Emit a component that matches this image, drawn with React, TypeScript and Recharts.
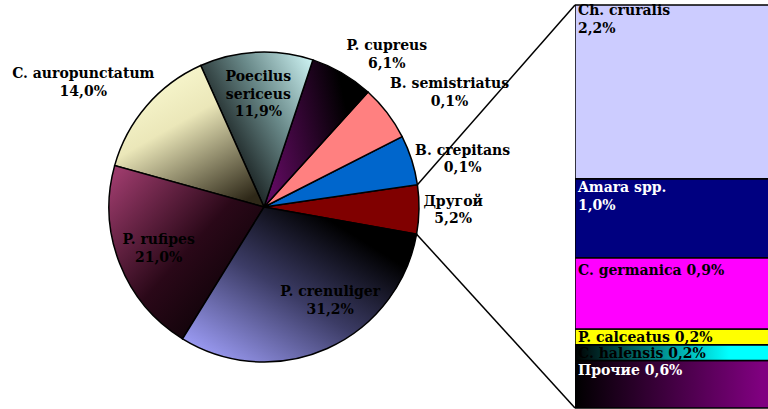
import React from "react";
import { PieChart, Pie, Cell, BarChart, Bar, XAxis, YAxis, LabelList } from "recharts";

// pie: slices counter-clockwise from the "Другой" slice at 3 o'clock
const pieNames = [
  "Другой",
  "B. crepitans",
  "B. semistriatus",
  "P. cupreus",
  "Poecilus sericeus",
  "C. auropunctatum",
  "P. rufipes",
  "P. crenuliger",
];
const pieShares = [5.1, 5.2, 5.8, 6.6, 11.8, 14.0, 20.5, 31.0];
const pieLabels = ["5,2%", "0,1%", "0,1%", "6,1%", "11,9%", "14,0%", "21,0%", "31,2%"];

// bar of "Другой", bottom to top
const barNames = ["Прочие", "C. halensis", "P. calceatus", "C. germanica", "Amara spp.", "Ch. cruralis"];
const barKeys = ["prochie", "halensis", "calceatus", "germanica", "amara", "cruralis"];
const barValues = [0.6, 0.2, 0.2, 0.9, 1.0, 2.2];
const barLabels = ["0,6%", "0,2%", "0,2%", "0,9%", "1,0%", "2,2%"];

const FONT = "'DejaVu Serif', serif";
const FS = 14;
const W = 768;
const H = 409;
const CX = 264;
const CY = 207;
const R = 155;
const START = -10.1;
const BAR_LEFT = 575;
const BAR_TOP = 5;
const BAR_BOTTOM = 408;
const RAD = Math.PI / 180;

const pieFills: Record<string, string> = {
  "Другой": "#800000",
  "B. crepitans": "#0066cc",
  "B. semistriatus": "#ff8080",
  "P. cupreus": "url(#gCupreus)",
  "Poecilus sericeus": "url(#gSericeus)",
  "C. auropunctatum": "url(#gAuro)",
  "P. rufipes": "url(#gRufipes)",
  "P. crenuliger": "url(#gCren)",
};

const inside = ["Poecilus sericeus", "P. rufipes", "P. crenuliger"];
const nudge: Record<string, [number, number]> = {
  "Другой": [6, 0],
  "B. crepitans": [0, 5],
  "B. semistriatus": [10, -8],
  "P. cupreus": [22, -1],
  "C. auropunctatum": [-10, -10],
  "P. crenuliger": [20, -10],
};

const barFills: Record<string, string> = {
  prochie: "url(#gProchie)",
  halensis: "url(#gHalensis)",
  calceatus: "#ffff00",
  germanica: "#ff00ff",
  amara: "#000080",
  cruralis: "#ccccff",
};
const barTextColor: Record<string, string> = {
  prochie: "#ffffff",
  halensis: "#000000",
  calceatus: "#000000",
  germanica: "#000000",
  amara: "#ffffff",
  cruralis: "#000000",
};
const twoLine = ["amara", "cruralis"];
const barBaseline: Record<string, number> = {
  prochie: 14,
  halensis: 13,
  calceatus: 13,
  germanica: 17,
  amara: 13,
  cruralis: 10,
};

const pieData = pieNames.map((name, i) => ({ name, value: pieShares[i], pct: pieLabels[i] }));
const barRow: Record<string, any> = { cat: "other" };
barKeys.forEach((k, i) => (barRow[k] = barValues[i]));
const barData = [barRow];

function renderPieLabel(props: any) {
  const { cx, cy, midAngle, outerRadius, index } = props;
  const name = pieNames[index];
  const lines = name === "Poecilus sericeus" ? ["Poecilus", "sericeus", pieLabels[index]] : [name, pieLabels[index]];
  const cos = Math.cos(-midAngle * RAD);
  const sin = Math.sin(-midAngle * RAD);
  let x: number;
  let y: number;
  if (inside.includes(name)) {
    x = cx + outerRadius * 0.73 * cos;
    y = cy + outerRadius * 0.73 * sin;
  } else {
    const halfW = Math.max(...lines.map((l) => l.length)) * 4.2;
    const halfH = 18;
    x = cx + (outerRadius + 3) * cos + cos * halfW;
    y = cy + (outerRadius + 3) * sin + sin * halfH;
  }
  const n = nudge[name];
  if (n) {
    x += n[0];
    y += n[1];
  }
  const lh = 17.5;
  const top = y - ((lines.length - 1) * lh) / 2;
  return (
    <text
      key={`pl-${index}`}
      x={x}
      y={top}
      textAnchor="middle"
      fontFamily={FONT}
      fontSize={FS}
      fontWeight="bold"
      fill="#000"
    >
      {lines.map((l, i) => (
        <tspan key={i} x={x} y={top + i * lh} dy="0.35em">
          {l}
        </tspan>
      ))}
    </text>
  );
}

function makeBarLabel(key: string, i: number) {
  return (props: any) => {
    const { x, y } = props;
    const base = y + barBaseline[key];
    const common = {
      fontFamily: FONT,
      fontSize: FS,
      fontWeight: "bold" as const,
      fill: barTextColor[key],
    };
    if (twoLine.includes(key)) {
      return (
        <text {...common}>
          <tspan x={x + 3} y={base}>{barNames[i]}</tspan>
          <tspan x={x + 3} y={base + 18}>{barLabels[i]}</tspan>
        </text>
      );
    }
    return (
      <text {...common} x={x + 3} y={base}>
        {`${barNames[i]} ${barLabels[i]}`}
      </text>
    );
  };
}

function Connectors() {
  const end = START + pieShares[0] * 3.6;
  const p1 = { x: CX + R * Math.cos(end * RAD), y: CY - R * Math.sin(end * RAD) };
  const p2 = { x: CX + R * Math.cos(START * RAD), y: CY - R * Math.sin(START * RAD) };
  return (
    <svg width={W} height={H} style={{ position: "absolute", left: 0, top: 0, pointerEvents: "none" }}>
      <line x1={p1.x} y1={p1.y} x2={BAR_LEFT} y2={BAR_TOP} stroke="#000" strokeWidth={1.5} />
      <line x1={p2.x} y1={p2.y} x2={BAR_LEFT} y2={BAR_BOTTOM} stroke="#000" strokeWidth={1.5} />
    </svg>
  );
}

export default function App() {
  return (
    <div style={{ position: "relative", width: W, height: H, overflow: "hidden", background: "#fff" }}>
      <style>{"body{margin:0}"}</style>
      <div style={{ position: "absolute", left: BAR_LEFT, top: 0 }}>
        <BarChart
          width={220}
          height={H}
          data={barData}
          margin={{ top: BAR_TOP, right: 0, bottom: H - BAR_BOTTOM, left: 0 }}
          barCategoryGap={0}
        >
          <defs>
            <linearGradient id="gHalensis" x1="0" y1="0" x2="1" y2="0">
              <stop offset="0" stopColor="#000000" />
              <stop offset="0.7" stopColor="#00ffff" />
              <stop offset="1" stopColor="#00ffff" />
            </linearGradient>
            <linearGradient id="gProchie" x1="0" y1="0" x2="1" y2="0">
              <stop offset="0" stopColor="#000000" />
              <stop offset="0.85" stopColor="#800080" />
              <stop offset="1" stopColor="#800080" />
            </linearGradient>
          </defs>
          <XAxis dataKey="cat" hide />
          <YAxis hide domain={[0, 5.1]} />
          {barKeys.map((k, i) => (
            <Bar
              key={k}
              dataKey={k}
              stackId="a"
              fill={barFills[k]}
              stroke="#000"
              strokeWidth={1.5}
              isAnimationActive={false}
            >
              <LabelList dataKey={k} content={makeBarLabel(k, i)} />
            </Bar>
          ))}
        </BarChart>
      </div>
      <div style={{ position: "absolute", left: 0, top: 0 }}>
        <PieChart width={W} height={H} margin={{ top: 0, right: 0, bottom: 0, left: 0 }}>
          <defs>
            <linearGradient id="gCren" x1="0.1" y1="0.95" x2="0.9" y2="0.1">
              <stop offset="0" stopColor="#9a9af2" />
              <stop offset="0.45" stopColor="#3c3c66" />
              <stop offset="0.85" stopColor="#000000" />
            </linearGradient>
            <linearGradient id="gRufipes" x1="0" y1="0.1" x2="0.9" y2="1">
              <stop offset="0" stopColor="#9a3a6a" />
              <stop offset="0.5" stopColor="#2a0818" />
              <stop offset="1" stopColor="#000000" />
            </linearGradient>
            <linearGradient id="gAuro" x1="0.2" y1="0" x2="0.8" y2="1">
              <stop offset="0" stopColor="#fcfcd4" />
              <stop offset="0.4" stopColor="#ebe7b9" />
              <stop offset="1" stopColor="#2e2818" />
            </linearGradient>
            <linearGradient id="gSericeus" x1="1" y1="0" x2="0.1" y2="0.7">
              <stop offset="0" stopColor="#d4fafa" />
              <stop offset="0.45" stopColor="#6a8a8a" />
              <stop offset="1" stopColor="#000000" />
            </linearGradient>
            <linearGradient id="gCupreus" x1="0" y1="0.6" x2="1" y2="0.3">
              <stop offset="0" stopColor="#5e0a5e" />
              <stop offset="0.8" stopColor="#000000" />
            </linearGradient>
          </defs>
          <Pie
            data={pieData}
            dataKey="value"
            nameKey="name"
            cx={CX}
            cy={CY}
            outerRadius={R}
            startAngle={START}
            endAngle={START + 360}
            stroke="#000"
            strokeWidth={1.5}
            label={renderPieLabel}
            labelLine={false}
            isAnimationActive={false}
          >
            {pieData.map((d) => (
              <Cell key={d.name} fill={pieFills[d.name]} />
            ))}
          </Pie>
        </PieChart>
      </div>
      <Connectors />
    </div>
  );
}
